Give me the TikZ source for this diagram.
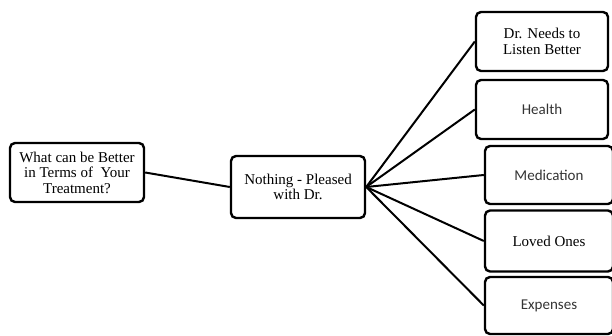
\documentclass[tikz,border=0pt]{standalone}
\usepackage{fontspec}
\newfontfamily\timesfont{Liberation Serif}
\newfontfamily\calibri{Carlito}
\usetikzlibrary{positioning}

\begin{document}
\begin{tikzpicture}[
  x=1pt, y=-1pt, line width=2pt,
  box/.style   = {draw, rounded corners=5pt, line width=2.4pt, align=center,
                  font=\timesfont\fontsize{15}{15.5}\selectfont, inner sep=2pt},
  sansbox/.style = {box, font=\calibri\fontsize{15}{15.5}\selectfont, text=black!80},
]
  \useasboundingbox (0,0) rectangle (612,336);

  \node[box, minimum width=134pt, minimum height=59pt] (question) at (77,172.5)
    {What can be Better\\in Terms of~ Your\\Treatment?};
  \node[box, minimum width=134pt, minimum height=62pt] (nothing) at (298,187)
    {Nothing - Pleased\\with Dr.};

  \node[box,     minimum width=132pt, minimum height=59pt] (listen)  at (542,41.5)  {Dr. Needs to\\Listen Better};
  \node[sansbox, minimum width=132pt, minimum height=59pt] (health)  at (542,109.5) {Health};
  \node[sansbox, minimum width=128pt, minimum height=58pt] (meds)    at (549,175)   {Medication};
  \node[box,     minimum width=128pt, minimum height=61pt] (loved)   at (549,241)   {Loved Ones};
  \node[sansbox, minimum width=128pt, minimum height=57pt] (expense) at (549,305.5) {Expenses};

  \draw (question.east) -- (nothing.west);
  \foreach \n in {listen, health, meds, loved, expense}
    \draw (nothing.east) -- (\n.west);
\end{tikzpicture}
\end{document}
